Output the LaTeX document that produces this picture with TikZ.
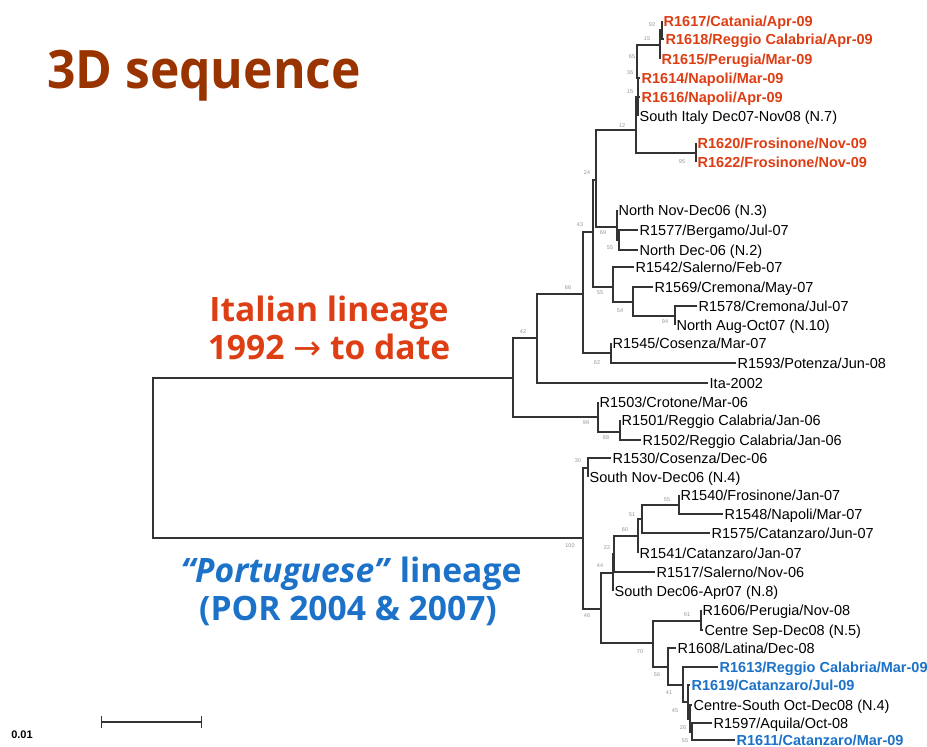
\documentclass[tikz,border=0pt]{standalone}
\usepackage{fontspec}
\setmainfont{Liberation Sans}
\newfontfamily\headfont{Open Sans}
\newfontfamily\arrowfont{DejaVu Sans}
\usetikzlibrary{arrows.meta}
\definecolor{itared}{RGB}{222,62,20}
\definecolor{porblue}{RGB}{28,114,200}
\definecolor{titlebrown}{RGB}{153,51,0}
\definecolor{bsgray}{RGB}{150,150,150}
\tikzset{
  branch/.style={draw=black!80, line width=1.3pt},
  leaf/.style={anchor=west, inner xsep=1.5pt, inner ysep=0pt, text height=10.4pt, text depth=0pt,
    font=\fontsize{14.5}{16}\selectfont},
  hotleaf/.style={leaf, text=itared, font=\fontsize{14.5}{16}\selectfont\bfseries},
  newleaf/.style={leaf, text=porblue, font=\fontsize{14.5}{16}\selectfont\bfseries},
  bs/.style={text=bsgray, inner sep=0pt, font=\fontsize{5.5}{5.5}\selectfont},
  bigtext/.style={anchor=base, inner sep=0pt, font=\headfont\bfseries\fontsize{33.6}{38}\selectfont},
}

\begin{document}
\begin{tikzpicture}[x=1pt,y=-1pt]

  \fill[white] (0,0) rectangle (927,747);
  \useasboundingbox (0,0) rectangle (927,747);

  % Labels
  \node[anchor=base, inner sep=0pt, text=titlebrown, font=\headfont\bfseries\fontsize{53}{60}\selectfont] (title) at (204,88) {\scalebox{0.94}[1]{3D sequence}};
  \node[bigtext, text=itared] (itaA) at (329,321) {Italian lineage};
  \node[bigtext, text=itared] (itaB) at (329,359) {1992 {\arrowfont\mdseries →} to date};
  \node[bigtext, text=porblue] (porA) at (351,582) {\textit{“Portuguese”} lineage};
  \node[bigtext, text=porblue] (porB) at (348,620) {(POR 2004 \& 2007)};

  % Internal nodes
  \coordinate (root) at (153,458);
  \coordinate (P) at (513,378);
  \coordinate (Q) at (537,338);
  \coordinate (A) at (583,294);
  \coordinate (D) at (593,232);
  \coordinate (G) at (596,180);
  \coordinate (H) at (636,130);
  \coordinate (N7) at (638,97);
  \coordinate (N6) at (637.5,79);
  \coordinate (N5) at (637,61);
  \coordinate (N2) at (660,45);
  \coordinate (N1) at (662,30);
  \coordinate (M) at (696,153);
  \coordinate (I) at (617,227);
  \coordinate (F) at (619,240);
  \coordinate (E) at (613,287);
  \coordinate (J) at (633,302);
  \coordinate (K) at (675,316);
  \coordinate (C) at (611,353);
  \coordinate (R) at (598,417);
  \coordinate (S) at (620,432);
  \coordinate (T) at (583,538);
  \coordinate (U) at (588,468);
  \coordinate (V) at (601,609);
  \coordinate (W) at (613,573);
  \coordinate (Y) at (614,554);
  \coordinate (Z) at (638,536);
  \coordinate (AB) at (642,519);
  \coordinate (AC) at (679,505);
  \coordinate (X) at (653,643);
  \coordinate (AD) at (701,621);
  \coordinate (AE) at (668,667);
  \coordinate (AF) at (683,685);
  \coordinate (AG) at (688,702);
  \coordinate (AH) at (690,719);
  \coordinate (AI) at (692,732);

  % Leaves
  \node[hotleaf] (r1617) at (662,21) {R1617/Catania/Apr-09};
  \node[hotleaf] (r1618) at (664,39) {R1618/Reggio Calabria/Apr-09};
  \node[hotleaf] (r1615) at (660,59) {R1615/Perugia/Mar-09};
  \node[hotleaf] (r1614) at (640,78) {R1614/Napoli/Mar-09};
  \node[hotleaf] (r1616) at (640,97) {R1616/Napoli/Apr-09};
  \node[leaf] (sItaly) at (638,116) {South Italy Dec07-Nov08 (N.7)};
  \node[hotleaf] (r1620) at (696,143) {R1620/Frosinone/Nov-09};
  \node[hotleaf] (r1622) at (696,162) {R1622/Frosinone/Nov-09};
  \node[leaf] (nNovDec) at (617,210) {North Nov-Dec06 (N.3)};
  \node[leaf] (r1577) at (638,230) {R1577/Bergamo/Jul-07};
  \node[leaf] (nDec) at (638,250) {North Dec-06 (N.2)};
  \node[leaf] (r1542) at (634,267) {R1542/Salerno/Feb-07};
  \node[leaf] (r1569) at (653,287) {R1569/Cremona/May-07};
  \node[leaf] (r1578) at (697,306) {R1578/Cremona/Jul-07};
  \node[leaf] (nAugOct) at (675,325) {North Aug-Oct07 (N.10)};
  \node[leaf] (r1545) at (611,343) {R1545/Cosenza/Mar-07};
  \node[leaf] (r1593) at (736,363) {R1593/Potenza/Jun-08};
  \node[leaf] (ita) at (708,383) {Ita-2002};
  \node[leaf] (r1503) at (598,402) {R1503/Crotone/Mar-06};
  \node[leaf] (r1501) at (620,420) {R1501/Reggio Calabria/Jan-06};
  \node[leaf] (r1502) at (641,440) {R1502/Reggio Calabria/Jan-06};
  \node[leaf] (r1530) at (611,458) {R1530/Cosenza/Dec-06};
  \node[leaf] (sNovDec) at (588,477) {South Nov-Dec06 (N.4)};
  \node[leaf] (r1540) at (679,495) {R1540/Frosinone/Jan-07};
  \node[leaf] (r1548) at (723,514) {R1548/Napoli/Mar-07};
  \node[leaf] (r1575) at (710,533) {R1575/Catanzaro/Jun-07};
  \node[leaf] (r1541) at (638,553) {R1541/Catanzaro/Jan-07};
  \node[leaf] (r1517) at (655,572) {R1517/Salerno/Nov-06};
  \node[leaf] (sDecApr) at (613,591) {South Dec06-Apr07 (N.8)};
  \node[leaf] (r1606) at (701,610) {R1606/Perugia/Nov-08};
  \node[leaf] (cSepDec) at (703,630) {Centre Sep-Dec08 (N.5)};
  \node[leaf] (r1608) at (676,648) {R1608/Latina/Dec-08};
  \node[newleaf] (r1613) at (718,667) {R1613/Reggio Calabria/Mar-09};
  \node[newleaf] (r1619) at (690,685) {R1619/Catanzaro/Jul-09};
  \node[leaf] (cSouth) at (692,705) {Centre-South Oct-Dec08 (N.4)};
  \node[leaf] (r1597) at (712,723) {R1597/Aquila/Oct-08};
  \node[newleaf] (r1611) at (735,740) {R1611/Catanzaro/Mar-09};

  % Branches
  \foreach \a/\b in {root/P, root/T, P/Q, P/R, Q/A, Q/ita, A/D, A/C, D/G, D/E,
      G/H, G/I, H/N7, H/M, N7/N6, N7/sItaly, N6/N5, N6/r1616, N5/N2, N5/r1614,
      N2/N1, N2/r1615, N1/r1617, N1/r1618, M/r1620, M/r1622,
      I/nNovDec, I/F, F/r1577, F/nDec, E/r1542, E/J, J/r1569, J/K,
      K/r1578, K/nAugOct, C/r1545, C/r1593, R/r1503, R/S, S/r1501, S/r1502,
      T/U, T/V, U/r1530, U/sNovDec, V/W, V/X, W/Y, W/sDecApr, Y/Z, Y/r1517,
      Z/AB, Z/r1541, AB/AC, AB/r1575, AC/r1540, AC/r1548,
      X/AD, X/AE, AD/r1606, AD/cSepDec, AE/r1608, AE/AF, AF/r1613, AF/AG,
      AG/r1619, AG/AH, AH/cSouth, AH/AI, AI/r1597, AI/r1611}
    \draw[branch] (\a) |- (\b);

  % Bootstrap values
  \foreach \x/\y/\v in {652/25/92, 647/39/15, 632/57/65, 630/73/36, 630/92/15,
      622/126/12, 682/162/95, 587/173/24, 580/225/43, 603/233/69, 610/248/55,
      568/288/66, 600/293/55, 620/311/54, 665/322/94, 523/332/42, 597/363/62,
      586/423/99, 606/438/88, 578/461/30, 570/546/100, 667/500/55, 632/515/51,
      625/530/60, 607/548/22, 600/566/44, 587/616/46, 687/615/91, 640/652/70,
      657/675/56, 669/693/41, 675/711/45, 683/728/26, 685/741/55}
    \node[bs] (bs-\x-\y) at (\x,\y) {\v};

  % Scale
  \coordinate (sbL) at (101,722);
  \coordinate (sbR) at (202,722);
  \draw[branch, {Bar[width=12pt]}-{Bar[width=12pt]}] (sbL) -- (sbR);
  \node[font=\fontsize{11}{11}\selectfont\bfseries] (sblab) at (22,735) {0.01};

\end{tikzpicture}
\end{document}
